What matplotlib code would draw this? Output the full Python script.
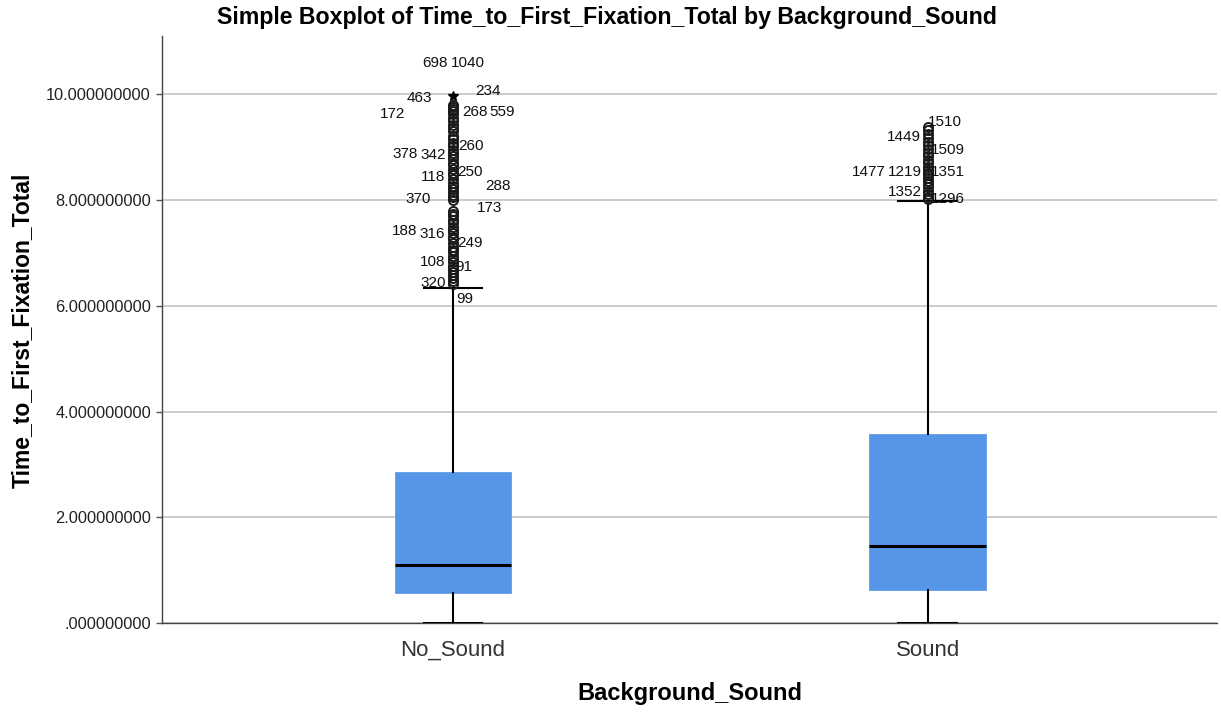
import matplotlib
matplotlib.use("Agg")
import matplotlib.pyplot as plt

plt.rcParams['font.family'] = ['Liberation Sans', 'DejaVu Sans']

# Groups and box summary statistics
groups = ["No_Sound", "Sound"]
q1 = [0.567, 0.624]
medians = [1.096, 1.456]
q3 = [2.855, 3.573]
whisker_low = [0.0, 0.0]
whisker_high = [6.33, 7.98]

# Outliers (circles) per group
outliers_no_sound = [9.80, 9.76, 9.72, 9.68, 9.62, 9.55, 9.49, 9.42, 9.36, 9.30,
                     9.22, 9.15, 9.08, 9.02, 8.95, 8.90, 8.84, 8.78, 8.71, 8.66,
                     8.58, 8.52, 8.47, 8.40, 8.33, 8.27, 8.21, 8.15, 8.10, 8.05,
                     8.01, 7.80, 7.74, 7.69, 7.63, 7.57, 7.50, 7.44, 7.38, 7.31,
                     7.26, 7.19, 7.12, 7.06, 7.01, 6.95, 6.88, 6.82, 6.76, 6.70,
                     6.64, 6.58, 6.52, 6.47, 6.42]
outliers_sound = [9.39, 9.33, 9.25, 9.18, 9.10, 9.04, 8.97, 8.90, 8.83, 8.76,
                  8.70, 8.63, 8.57, 8.52, 8.47, 8.42, 8.36, 8.30, 8.24, 8.18,
                  8.12, 8.06, 8.02]
# Extreme values (stars)
extremes_no_sound = [9.96]
extremes_sound = []

# Case-number labels: (group index, case id, horizontal offset, value)
case_labels = [
    (0, "698", -0.038, 10.59), (0, "1040", 0.032, 10.59),
    (0, "463", -0.070, 9.94), (0, "234", 0.074, 10.06),
    (0, "172", -0.128, 9.62), (0, "268", 0.046, 9.66), (0, "559", 0.103, 9.66),
    (0, "260", 0.038, 9.02), (0, "378", -0.101, 8.88), (0, "342", -0.042, 8.85),
    (0, "250", 0.036, 8.54), (0, "118", -0.042, 8.43), (0, "288", 0.095, 8.26),
    (0, "370", -0.074, 8.02), (0, "173", 0.076, 7.86),
    (0, "188", -0.101, 7.41), (0, "316", -0.044, 7.35), (0, "249", 0.036, 7.18),
    (0, "108", -0.044, 6.82), (0, "91", 0.023, 6.73),
    (0, "320", -0.042, 6.43), (0, "99", 0.025, 6.12),
    (1, "1510", 0.036, 9.47), (1, "1449", -0.051, 9.19), (1, "1509", 0.042, 8.94),
    (1, "1477", -0.124, 8.54), (1, "1219", -0.048, 8.53), (1, "1351", 0.042, 8.53),
    (1, "1352", -0.048, 8.15), (1, "1296", 0.042, 8.02),
]

y_ticks = [0, 2, 4, 6, 8, 10]

box_color = "#5596e6"
positions = [1, 2]

fig = plt.figure(figsize=(12.21, 7.13), dpi=100)
ax = fig.add_axes([0.1327, 0.1262, 0.864, 0.823])

stats = []
fliers_all = [outliers_no_sound, outliers_sound]
for i in range(len(groups)):
    stats.append(dict(med=medians[i], q1=q1[i], q3=q3[i],
                      whislo=whisker_low[i], whishi=whisker_high[i],
                      fliers=fliers_all[i], label=groups[i]))

ax.bxp(stats, positions=positions, widths=0.246, capwidths=0.124,
       patch_artist=True, showfliers=True,
       boxprops=dict(facecolor=box_color, edgecolor=box_color, linewidth=0.5),
       medianprops=dict(color="black", linewidth=2.2),
       whiskerprops=dict(color="black", linewidth=1.5),
       capprops=dict(color="black", linewidth=1.5),
       flierprops=dict(marker="o", markerfacecolor="none", markeredgecolor="#1a1a1a",
                       markersize=6.5, markeredgewidth=1.4),
       zorder=3)

for pos, ext in zip(positions, [extremes_no_sound, extremes_sound]):
    if ext:
        ax.plot([pos] * len(ext), ext, linestyle="none", marker="*",
                color="black", markersize=7, zorder=4)

for gi, cid, dx, yv in case_labels:
    ax.text(positions[gi] + dx, yv, cid, ha="center", va="center",
            fontsize=11, color="#111111", zorder=5)

ax.set_xlim(0.387, 2.609)
ax.set_ylim(0, 11.1)
ax.set_yticks(y_ticks)
ax.set_yticklabels([("%.9f" % v).lstrip("0") if v < 1 else "%.9f" % v for v in y_ticks],
                   fontsize=11.8, color="#222222")
ax.set_xticks(positions)
ax.set_xticklabels(groups, fontsize=16, color="#333333")
ax.tick_params(axis="x", length=0, pad=12)
ax.tick_params(axis="y", length=4, width=1, color="#555555", direction="out", pad=4)

ax.grid(axis="y", color="#c8c8c8", linewidth=1.3, zorder=0)
ax.set_axisbelow(True)
for side in ["top", "right"]:
    ax.spines[side].set_visible(False)
for side in ["left", "bottom"]:
    ax.spines[side].set_color("#444444")
    ax.spines[side].set_linewidth(1.0)

fig.text(0.497, 0.976, "Simple Boxplot of Time_to_First_Fixation_Total by Background_Sound",
         ha="center", va="center", fontsize=16.7, fontweight="bold")
fig.text(0.018, 0.537, "Time_to_First_Fixation_Total", rotation=90,
         ha="center", va="center", fontsize=16.5, fontweight="bold")
fig.text(0.565, 0.028, "Background_Sound", ha="center", va="center",
         fontsize=17, fontweight="bold")

fig.savefig("out.png", dpi=100)
